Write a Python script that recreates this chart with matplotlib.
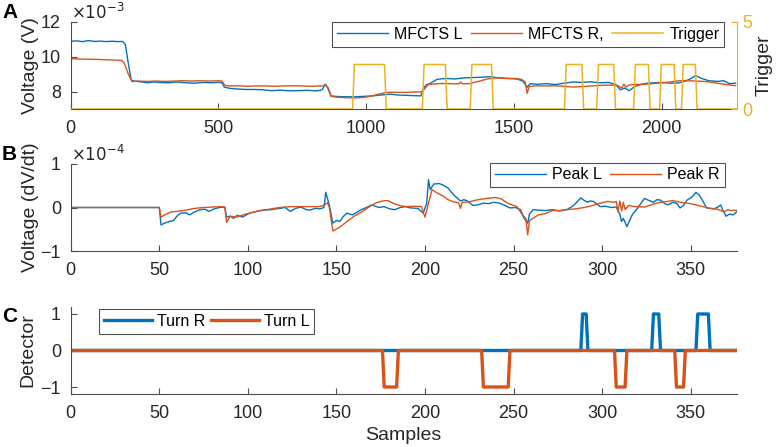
import matplotlib
matplotlib.use('Agg')
import matplotlib.pyplot as plt
import numpy as np

plt.rcParams['font.family'] = ['Liberation Sans', 'DejaVu Sans']
plt.rcParams['font.size'] = 10

# colours (MATLAB default order)
c_blue = '#0072BD'
c_red = '#D95319'
c_yel = '#EDB120'
c_axis = '#4d4d4d'
c_text = '#262626'

# ---- Panel A data (voltage in units of 1e-3 V) ----
mfl_t = [0, 20, 40, 60, 80, 100, 120, 140, 160, 175, 185, 195, 205, 215, 240, 260, 280, 300,
         330, 360, 390, 420, 450, 480, 500, 512, 520, 540, 560, 590, 620, 650, 680, 710, 740,
         770, 800, 830, 850, 862, 870, 880, 900, 930, 960, 990, 1020, 1050, 1080, 1110, 1140,
         1170, 1185, 1195, 1205, 1215, 1240, 1270, 1300, 1330, 1360, 1390, 1420, 1450, 1480,
         1510, 1530, 1545, 1555, 1580, 1610, 1640, 1670, 1700, 1730, 1760, 1790, 1820, 1845,
         1860, 1875, 1890, 1910, 1940, 1970, 2000, 2030, 2060, 2080, 2100, 2115, 2135, 2160,
         2190, 2210, 2230, 2250]
mfl_v = [10.88, 10.9, 10.86, 10.92, 10.87, 10.89, 10.86, 10.88, 10.86, 10.87, 10.7, 9.6, 8.65,
         8.6, 8.55, 8.5, 8.55, 8.52, 8.5, 8.55, 8.5, 8.48, 8.52, 8.5, 8.53, 8.5, 8.25, 8.18,
         8.15, 8.12, 8.12, 8.1, 8.05, 8.08, 8.04, 8.05, 8.07, 8.04, 8.08, 8.42, 8.2, 7.75, 7.72,
         7.7, 7.7, 7.72, 7.75, 7.8, 7.85, 7.8, 7.78, 7.76, 7.75, 8.2, 8.4, 8.45, 8.7, 8.75, 8.72,
         8.78, 8.8, 8.82, 8.85, 8.78, 8.75, 8.72, 8.6, 8.25, 8.45, 8.42, 8.45, 8.4, 8.48, 8.55,
         8.52, 8.56, 8.5, 8.52, 8.4, 8.1, 8.2, 8.05, 8.3, 8.45, 8.5, 8.52, 8.48, 8.5, 8.6, 8.75,
         8.92, 8.75, 8.62, 8.58, 8.62, 8.45, 8.48]

mfr_t = [0, 30, 60, 90, 120, 150, 172, 182, 195, 208, 230, 260, 290, 320, 350, 380, 410, 440,
         470, 500, 512, 522, 540, 570, 600, 630, 660, 690, 720, 750, 780, 810, 840, 855, 862,
         872, 882, 900, 930, 960, 990, 1020, 1050, 1070, 1100, 1130, 1160, 1185, 1195, 1210,
         1240, 1270, 1300, 1315, 1320, 1325, 1350, 1380, 1410, 1440, 1470, 1500, 1525, 1538,
         1545, 1552, 1580, 1610, 1640, 1670, 1700, 1730, 1760, 1790, 1820, 1850, 1865, 1872,
         1880, 1890, 1910, 1940, 1970, 2000, 2030, 2060, 2090, 2120, 2150, 2180, 2210, 2230, 2250]
mfr_v = [9.88, 9.86, 9.85, 9.84, 9.82, 9.8, 9.79, 9.6, 9.0, 8.57, 8.6, 8.58, 8.6, 8.58, 8.6,
         8.62, 8.6, 8.62, 8.6, 8.62, 8.6, 8.35, 8.32, 8.33, 8.3, 8.32, 8.32, 8.3, 8.32, 8.33,
         8.32, 8.3, 8.32, 8.32, 8.4, 8.2, 7.72, 7.68, 7.65, 7.63, 7.66, 7.75, 7.88, 7.95, 7.96,
         7.95, 7.97, 7.98, 8.1, 8.4, 8.45, 8.46, 8.44, 8.45, 8.55, 8.45, 8.45, 8.58, 8.72, 8.78,
         8.75, 8.75, 8.7, 8.55, 7.9, 8.3, 8.33, 8.32, 8.33, 8.3, 8.26, 8.28, 8.32, 8.35, 8.37,
         8.35, 8.2, 8.42, 8.25, 8.38, 8.4, 8.42, 8.45, 8.5, 8.55, 8.62, 8.62, 8.6, 8.57, 8.5,
         8.42, 8.38, 8.33]

trig_t = [0, 954, 960, 1062, 1068, 1190, 1196, 1268, 1274, 1352, 1358, 1424, 1430, 1671, 1677,
          1730, 1736, 1780, 1786, 1838, 1844, 1905, 1911, 1955, 1961, 1993, 1999, 2042, 2048,
          2067, 2073, 2114, 2120, 2254]
trig_v = [0, 0, 2.55, 2.55, 0, 0, 2.55, 2.55, 0, 0, 2.55, 2.55, 0, 0, 2.55, 2.55, 0, 0, 2.55,
          2.55, 0, 0, 2.55, 2.55, 0, 0, 2.55, 2.55, 0, 0, 2.55, 2.55, 0, 0]

# ---- Panel B data (dV/dt in units of 1e-4) ----
pkl_t = [0, 50, 51, 53, 56, 58, 60, 62, 65, 67, 70, 73, 76, 78, 81, 84, 87, 88, 90, 92, 94, 97,
         101, 104, 107, 110, 113, 116, 118, 121, 124, 127, 130, 133, 135, 138, 141, 143, 144,
         146, 148, 150, 152, 154, 156, 159, 162, 164, 167, 170, 174, 177, 180, 183, 186, 189,
         192, 196, 199, 201, 202, 203, 205, 208, 210, 213, 215, 217, 220, 222, 224, 227, 230,
         233, 236, 239, 242, 245, 248, 251, 254, 256, 258, 259, 261, 264, 268, 272, 276, 280,
         283, 285, 288, 290, 292, 293, 295, 297, 299, 302, 305, 308, 310, 311, 312, 314, 317,
         320, 322, 324, 326, 329, 331, 333, 335, 337, 340, 342, 344, 346, 348, 351, 353, 355,
         357, 359, 361, 363, 365, 367, 368, 370, 372, 374, 376]
pkl_v = [0, 0, -0.4, -0.36, -0.32, -0.3, -0.2, -0.13, -0.12, -0.17, -0.1, -0.05, -0.04, -0.09,
         -0.03, 0.0, 0.01, -0.22, -0.2, -0.25, -0.18, -0.22, -0.13, -0.1, -0.07, -0.06, -0.05,
         -0.03, -0.02, 0.0, -0.09, -0.02, 0.01, -0.05, -0.06, -0.02, -0.03, 0.0, 0.35, 0.05,
         -0.36, -0.3, -0.32, -0.2, -0.13, -0.17, -0.1, -0.05, 0.0, 0.06, 0.0, 0.02, -0.03, -0.05,
         0.0, 0.02, -0.01, -0.02, -0.13, 0.1, 0.64, 0.41, 0.54, 0.55, 0.52, 0.45, 0.35, 0.26,
         0.15, 0.18, 0.15, 0.05, 0.06, 0.1, 0.09, 0.12, 0.1, 0.05, -0.01, 0.0, -0.05, -0.25,
         -0.36, -0.15, -0.05, -0.06, -0.07, -0.05, -0.08, -0.05, 0.02, 0.09, 0.22, 0.16, 0.12,
         0.15, 0.14, 0.08, 0.02, 0.03, 0.0, 0.01, -0.15, -0.32, -0.25, -0.44, -0.17, -0.02, 0.1,
         0.21, 0.17, 0.12, 0.18, 0.17, 0.1, 0.06, 0.12, 0.1, -0.01, 0.05, 0.17, 0.25, 0.35,
         0.28, 0.14, -0.01, -0.02, -0.03, 0.0, 0.06, -0.05, -0.2, -0.15, -0.17, -0.1]

pkr_t = [0, 50, 51, 54, 57, 60, 65, 70, 75, 80, 84, 87, 88, 90, 94, 98, 102, 107, 112, 118, 124,
         130, 135, 140, 143, 145, 146, 148, 152, 156, 160, 164, 168, 172, 176, 179, 183, 187, 190,
         194, 198, 200, 202, 204, 207, 210, 213, 216, 219, 220, 221, 225, 230, 235, 240, 243,
         247, 252, 255, 257, 258, 259, 261, 264, 268, 272, 276, 280, 285, 290, 295, 299, 303,
         307, 308, 309, 310, 311, 312, 313, 315, 318, 321, 324, 329, 333, 337, 340, 344, 348,
         353, 357, 361, 365, 369, 371, 373, 376]
pkr_v = [0, 0, -0.22, -0.15, -0.1, -0.09, -0.06, -0.02, 0.0, 0.01, 0.02, 0.01, -0.34, -0.2,
         -0.22, -0.16, -0.12, -0.07, -0.04, 0.0, 0.02, 0.02, 0.02, 0.02, 0.05, 0.11, 0.0, -0.54,
         -0.45, -0.32, -0.2, -0.11, 0.0, 0.1, 0.15, 0.16, 0.08, 0.03, 0.02, 0.03, 0.02, -0.22,
         0.1, 0.41, 0.33, 0.27, 0.18, 0.13, 0.11, -0.02, 0.12, 0.13, 0.18, 0.21, 0.23, 0.2, 0.09,
         0.02, -0.17, -0.25, -0.63, -0.3, -0.25, -0.17, -0.14, -0.07, -0.07, -0.05, -0.03, 0.0,
         0.05, 0.1, 0.14, 0.12, 0.14, -0.1, 0.15, -0.08, 0.12, -0.05, 0.05, 0.02, 0.02, 0.01,
         0.08, 0.12, 0.14, 0.16, 0.12, 0.1, 0.06, 0.02, -0.02, -0.04, -0.1, -0.05, -0.07, -0.06]

# ---- Panel C data (detector output) ----
turnr_t = [0, 288, 289, 291, 292, 328, 329, 332, 333, 353, 354, 360, 361, 376]
turnr_v = [0, 0, 1, 1, 0, 0, 1, 1, 0, 0, 1, 1, 0, 0]
turnl_t = [0, 176, 177, 184, 185, 232, 233, 247, 248, 307, 308, 313, 314, 341, 342, 346, 347, 376]
turnl_v = [0, 0, -1, -1, 0, 0, -1, -1, 0, 0, -1, -1, 0, 0, -1, -1, 0, 0]

TICK_FS = 13
LAB_FS = 14
LEG_FS = 11.5


def style_axes(ax):
    for s in ['top', 'right']:
        ax.spines[s].set_visible(False)
    for s in ['left', 'bottom']:
        ax.spines[s].set_color(c_axis)
        ax.spines[s].set_linewidth(0.8)
    ax.tick_params(direction='in', length=4, width=0.8, color=c_axis,
                   labelcolor=c_text, labelsize=TICK_FS)
    ax.tick_params(axis='x', pad=8)
    ax.tick_params(axis='y', pad=7)


fig = plt.figure(figsize=(7.82, 4.47), dpi=100)
W, H = 782.0, 447.0

def add_axes(l, r, t, b):
    return fig.add_axes([l / W, 1 - b / H, (r - l) / W, (b - t) / H])

# Panel A
axA = add_axes(70.7, 736.7, 21.7, 109)
style_axes(axA)
lA1, = axA.plot(mfl_t, mfl_v, color=c_blue, lw=1.0, label='MFCTS L')
lA2, = axA.plot(mfr_t, mfr_v, color=c_red, lw=1.0, label='MFCTS R,')
axA.set_xlim(0, 2254)
axA.set_ylim(7, 12)
axA.set_yticks([8, 10, 12])
axA.set_xticks([0, 500, 1000, 1500, 2000])
axA.set_ylabel('Voltage (V)', fontsize=LAB_FS, color=c_text, labelpad=1)
axA.text(0.0, 1.0, r'$\times10^{-3}$', transform=axA.transAxes, fontsize=12,
         color=c_text, ha='left', va='bottom')

axT = axA.twinx()
axT.set_position(axA.get_position())
for s in ['top', 'left', 'bottom']:
    axT.spines[s].set_visible(False)
axT.spines['right'].set_color(c_yel)
axT.spines['right'].set_linewidth(0.8)
lA3, = axT.plot(trig_t, trig_v, color=c_yel, lw=1.1, label='Trigger')
axT.set_ylim(0, 5)
axT.set_yticks([0, 5])
axT.tick_params(direction='in', length=4, width=0.8, color=c_yel,
                labelcolor=c_yel, labelsize=TICK_FS, pad=4)
axT.set_ylabel('Trigger', fontsize=LAB_FS, color=c_text, labelpad=2)
legA = axT.legend(handles=[lA1, lA2, lA3], loc='upper right', ncol=3,
                  bbox_to_anchor=(0.981, 0.997), borderaxespad=0, fancybox=False,
                  edgecolor='#262626', fontsize=LEG_FS, handlelength=3.2,
                  columnspacing=0.5, handletextpad=0.4, borderpad=0.3)
legA.get_frame().set_linewidth(0.8)

# Panel B
axB = add_axes(70.7, 736.7, 164, 251)
style_axes(axB)
lB1, = axB.plot(pkl_t, pkl_v, color=c_blue, lw=1.0, label='Peak L')
lB2, = axB.plot(pkr_t, pkr_v, color=c_red, lw=1.0, label='Peak R')
axB.set_xlim(0, 376)
axB.set_ylim(-1, 1)
axB.set_yticks([-1, 0, 1])
axB.set_xticks(np.arange(0, 351, 50))
axB.set_ylabel('Voltage (dV/dt)', fontsize=LAB_FS, color=c_text, labelpad=1)
axB.text(0.0, 1.0, r'$\times10^{-4}$', transform=axB.transAxes, fontsize=12,
         color=c_text, ha='left', va='bottom')
legB = axB.legend(loc='upper right', ncol=2, bbox_to_anchor=(0.982, 1.015),
                  borderaxespad=0, fancybox=False, edgecolor='#262626', fontsize=LEG_FS,
                  handlelength=3.2, columnspacing=0.5, handletextpad=0.4, borderpad=0.3)
legB.get_frame().set_linewidth(0.8)

# Panel C
axC = add_axes(70.7, 736.7, 306.7, 394.3)
style_axes(axC)
axC.plot(turnr_t, turnr_v, color=c_blue, lw=2.4, label='Turn R')
axC.plot(turnl_t, turnl_v, color=c_red, lw=2.4, label='Turn L')
axC.set_xlim(0, 376)
axC.set_ylim(-1.2, 1.2)
axC.set_yticks([-1, 0, 1])
axC.set_xticks(np.arange(0, 351, 50))
axC.set_ylabel('Detector', fontsize=LAB_FS, color=c_text, labelpad=3)
axC.set_xlabel('Samples', fontsize=LAB_FS, color=c_text, labelpad=3)
legC = axC.legend(loc='upper left', ncol=2, bbox_to_anchor=(0.0425, 0.974),
                  borderaxespad=0, fancybox=False, edgecolor='#262626',
                  fontsize=11.5, handlelength=3.0, columnspacing=0.4,
                  handletextpad=0.3, borderpad=0.3)
legC.get_frame().set_linewidth(0.8)

# panel letters
for lab, yy in [('A', 12), ('B', 155), ('C', 316)]:
    fig.text(2 / W, 1 - yy / H, lab, fontsize=15, fontweight='bold', va='center', ha='left')

fig.savefig('out.png', dpi=100)
